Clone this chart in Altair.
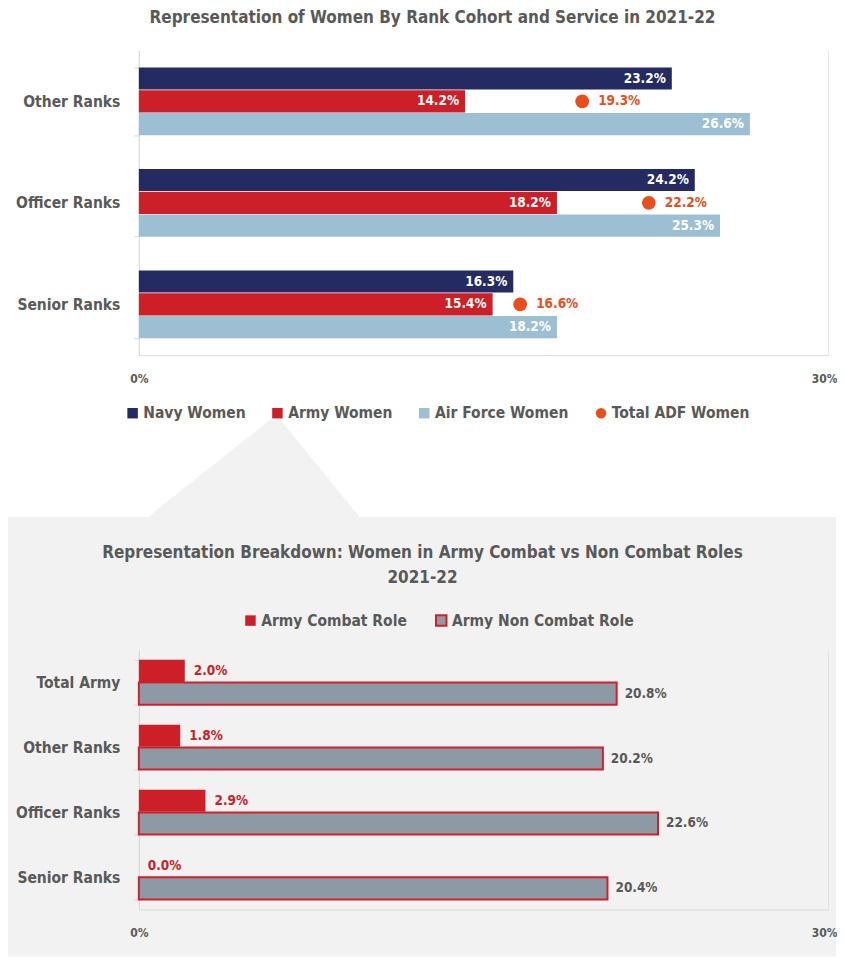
import altair as alt
import pandas as pd

# ---------------- data ----------------
ranks_top = ["Other Ranks", "Officer Ranks", "Senior Ranks"]
series_top = ["Navy Women", "Army Women", "Air Force Women", "Total ADF Women"]
navy = [23.2, 24.2, 16.3]
army = [14.2, 18.2, 15.4]
airforce = [26.6, 25.3, 18.2]
total_adf = [19.3, 22.2, 16.6]

ranks_bottom = ["Total Army", "Other Ranks", "Officer Ranks", "Senior Ranks"]
roles = ["Army Combat Role", "Army Non Combat Role"]
combat = [2.0, 1.8, 2.9, 0.0]
noncombat = [20.8, 20.2, 22.6, 20.4]

x_ticks = [0, 30]

title_top = "Representation of Women By Rank Cohort and Service in 2021-22"
title_bottom = ["Representation Breakdown: Women in Army Combat vs Non Combat Roles", "2021-22"]

# ---------------- style ----------------
FONT = "DejaVu Sans Condensed"
NAVY = "#232b62"
RED = "#cc1f27"
LIGHTBLUE = "#9dbfd3"
ORANGE = "#e84e1b"
GRAY_BAR = "#8d99a5"
TEXT = "#595959"
PANEL = "#f2f2f2"
AXIS_LINE = "#d9d9d9"

W = 690
H1 = 305
H2 = 260
LBL = 15.5   # axis / legend label size
VAL = 13.5   # value label size

# ---------------- tables ----------------
bar_rows = []
for s, vals in zip(series_top[:3], [navy, army, airforce]):
    for r, v in zip(ranks_top, vals):
        bar_rows.append({"rank": r, "series": s, "slot": s, "value": v, "label": f"{v:.1f}%"})
bars_df = pd.DataFrame(bar_rows)
dots_df = pd.DataFrame({
    "rank": ranks_top,
    "series": [series_top[3]] * 3,
    "slot": [series_top[1]] * 3,
    "value": total_adf,
    "label": [f"{v:.1f}%" for v in total_adf],
})

army_rows = []
for role, vals in zip(roles, [combat, noncombat]):
    for r, v in zip(ranks_bottom, vals):
        army_rows.append({"rank": r, "role": role, "value": v, "label": f"{v:.1f}%"})
army_df = pd.DataFrame(army_rows)

one = pd.DataFrame({"k": [0]})


def x_enc(grid_color, domain_color):
    return alt.X(
        "value:Q",
        scale=alt.Scale(domain=[0, 30], nice=False),
        axis=alt.Axis(
            values=x_ticks, labelExpr="datum.value + '%'", title=None,
            grid=True, gridColor=grid_color, domainColor=domain_color,
            ticks=False, labelPadding=18, labelFont=FONT, labelFontSize=12,
            labelFontWeight="bold", labelColor=TEXT, labelFlush=True, labelFlushOffset=9,
        ),
    )


def y_axis():
    return alt.Axis(
        title=None, domainColor=AXIS_LINE, tickColor=AXIS_LINE, tickSize=5,
        tickBand="extent", labelPadding=14, labelFont=FONT, labelFontSize=LBL,
        labelFontWeight="bold", labelColor=TEXT, labelLimit=0,
    )


# ---------------- top chart ----------------
y_top = alt.Y("rank:N", sort=ranks_top,
              scale=alt.Scale(domain=ranks_top, paddingInner=0.333, paddingOuter=0.167),
              axis=y_axis())
yoff_top = alt.YOffset("slot:N", scale=alt.Scale(domain=series_top[:3], paddingInner=0.03, paddingOuter=0))

leg_top = alt.Legend(
    title=None, orient="none", legendX=-14, legendY=355, direction="horizontal",
    labelFont=FONT, labelFontSize=LBL, labelFontWeight="bold", labelColor=TEXT,
    symbolSize=110, symbolStrokeWidth=0, labelOffset=3, columnPadding=24, padding=0,
    symbolOpacity=1, labelLimit=0,
)
color_top = alt.Color("series:N", scale=alt.Scale(domain=series_top, range=[NAVY, RED, LIGHTBLUE, ORANGE]),
                      legend=leg_top)
shape_top = alt.Shape("series:N", scale=alt.Scale(domain=series_top, range=["square", "square", "square", "circle"]),
                      legend=leg_top)

panel = alt.Chart(one).mark_rect(color=PANEL).encode(
    x=alt.value(-131), x2=alt.value(698), y=alt.value(467), y2=alt.value(907)
)
funnel = alt.Chart(one).mark_point(
    shape="M 0.151 -0.4575 L 0.255 -0.4575 L 1 0.4575 L -1 0.4575 Z",
    size=44944, filled=True, color=PANEL, opacity=1, strokeWidth=0,
).encode(x=alt.value(115), y=alt.value(418.5))

bars_top = alt.Chart(bars_df).mark_bar().encode(
    x=x_enc("#e8e8e8", AXIS_LINE), y=y_top, yOffset=yoff_top, color=color_top,
)
bar_labels_top = alt.Chart(bars_df).mark_text(
    align="right", dx=-6, color="white", font=FONT, fontSize=VAL, fontWeight="bold"
).encode(x="value:Q", y=alt.Y("rank:N", sort=ranks_top), yOffset="slot:N", text="label:N")
dots = alt.Chart(dots_df).mark_point(filled=True, opacity=1, size=190).encode(
    x="value:Q", y=alt.Y("rank:N", sort=ranks_top), yOffset="slot:N", color=color_top, shape=shape_top,
)
dot_labels = alt.Chart(dots_df).mark_text(
    align="left", dx=16, color=ORANGE, font=FONT, fontSize=VAL, fontWeight="bold"
).encode(x="value:Q", y=alt.Y("rank:N", sort=ranks_top), yOffset="slot:N", text="label:N")

top = alt.layer(panel, funnel, bars_top, dots, bar_labels_top, dot_labels).properties(
    width=W, height=H1,
    title=alt.Title(title_top, font=FONT, fontSize=17, fontWeight="bold", color=TEXT,
                    anchor="middle", frame="group", dx=-51, offset=17),
)

# ---------------- bottom chart ----------------
y_bot = alt.Y("rank:N", sort=ranks_bottom,
              scale=alt.Scale(domain=ranks_bottom, paddingInner=0.31, paddingOuter=0.155),
              axis=y_axis())
yoff_bot = alt.YOffset("role:N", scale=alt.Scale(domain=roles, paddingInner=0.03, paddingOuter=0))
leg_bot = alt.Legend(
    title=None, orient="none", legendX=104, legendY=-37, direction="horizontal",
    labelFont=FONT, labelFontSize=LBL, labelFontWeight="bold", labelColor=TEXT,
    symbolSize=110, symbolStrokeWidth=2, labelOffset=3, columnPadding=24, padding=0,
    symbolOpacity=1, labelLimit=0,
)
color_bot = alt.Color("role:N", scale=alt.Scale(domain=roles, range=[RED, GRAY_BAR]), legend=leg_bot)
stroke_bot = alt.Stroke("role:N", scale=alt.Scale(domain=roles, range=["rgba(0,0,0,0)", "#d0202a"]), legend=leg_bot)

bars_bot = alt.Chart(army_df).mark_bar(strokeWidth=2).encode(
    x=x_enc("#e4e4e4", AXIS_LINE), y=y_bot, yOffset=yoff_bot, color=color_bot, stroke=stroke_bot,
)
lab_combat = alt.Chart(army_df).transform_filter(
    alt.datum.role == roles[0]
).mark_text(align="left", dx=9, color=RED, font=FONT, fontSize=VAL, fontWeight="bold").encode(
    x="value:Q", y=alt.Y("rank:N", sort=ranks_bottom), yOffset="role:N", text="label:N"
)
lab_non = alt.Chart(army_df).transform_filter(
    alt.datum.role == roles[1]
).mark_text(align="left", dx=8, color=TEXT, font=FONT, fontSize=VAL, fontWeight="bold").encode(
    x="value:Q", y=alt.Y("rank:N", sort=ranks_bottom), yOffset="role:N", text="label:N"
)

bottom = alt.layer(bars_bot, lab_combat, lab_non).properties(
    width=W, height=H2,
    title=alt.Title(title_bottom, font=FONT, fontSize=17, fontWeight="bold", color=TEXT,
                    anchor="middle", frame="group", dx=-61, offset=26, lineHeight=25),
)

chart = alt.vconcat(top, bottom, spacing=295, bounds="flush").resolve_scale(
    color="independent", shape="independent", stroke="independent",
    x="independent", y="independent", yOffset="independent",
).properties(
    padding={"top": 0, "left": 0, "right": 0, "bottom": 0},
).configure_view(strokeWidth=0)

chart.save("out.html", embed_options={"renderer": "svg", "actions": False})
